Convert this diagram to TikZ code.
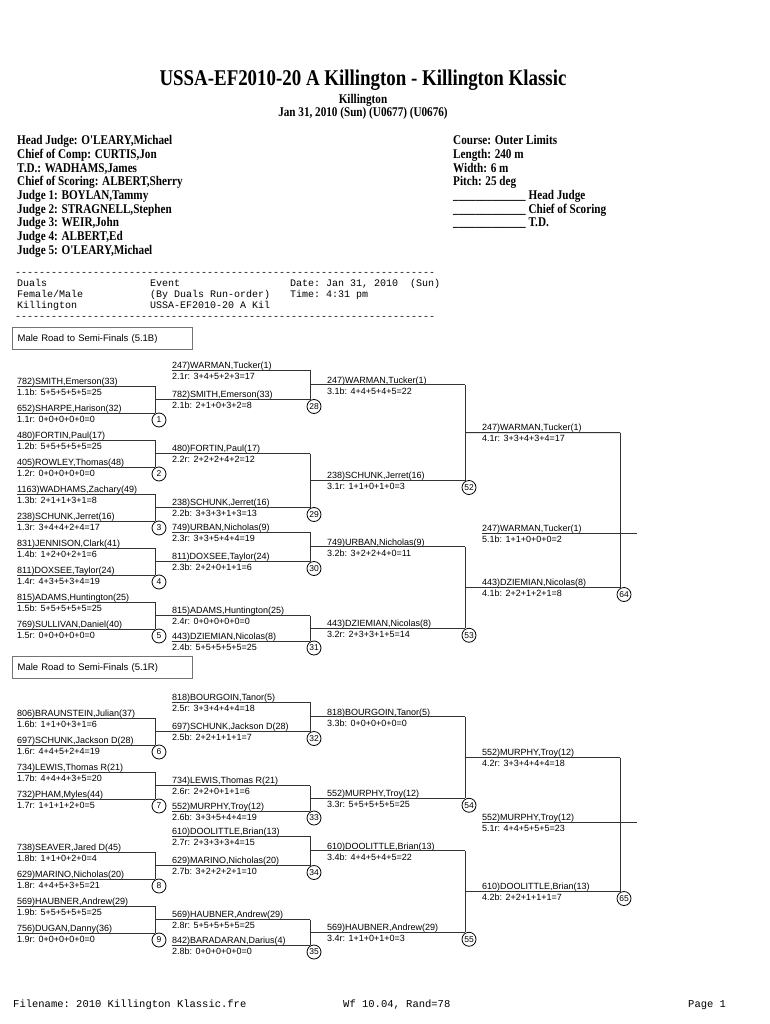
\documentclass[tikz,border=0pt]{standalone}
\usepackage{fontspec}
\usepackage{tikz}
\usetikzlibrary{calc}
\newfontfamily\sansf{Liberation Sans}
\newfontfamily\serf[FakeStretch=0.84]{Liberation Serif}
\setmonofont{Liberation Mono}

% one bout: id, right x, top y, bottom y, bout number
\newcommand{\bout}[5]{%
  \coordinate (#1a) at (#2,#3);
  \coordinate (#1b) at (#2,#4);
  \coordinate (#1w) at (#2,{(#3+#4)/2});
  \draw[bline] (#1a) -- (#1b);
  \node[num] (c#5) at ([shift={(4,7)}]#1b) {#5};
}

\begin{document}
\begin{tikzpicture}[x=1pt, y=-1pt,
  bline/.style={draw=black!80, line width=1pt},
  who/.style={anchor=base west, inner sep=0pt, yshift=1.75pt,
    font=\sansf\fontsize{9}{10}\selectfont},
  pts/.style={anchor=base west, inner sep=0pt, yshift=-9.25pt,
    font=\sansf\fontsize{9}{10}\selectfont},
  num/.style={draw, circle, line width=0.8pt, inner sep=0pt,
    minimum size=14pt, font=\sansf\fontsize{8.5}{9}\selectfont},
  secbox/.style={draw=black!55, line width=1.2pt, anchor=north west,
    minimum height=22pt, text width=170pt, inner xsep=5pt, align=left,
    font=\sansf\fontsize{9.5}{10}\selectfont},
  hdr/.style={anchor=west, inner sep=0pt, text height=9pt, text depth=2.5pt,
    font=\serf\bfseries\fontsize{13.3}{14}\selectfont},
  mono/.style={anchor=west, inner sep=0pt, text height=7pt, text depth=2pt,
    font=\ttfamily\fontsize{10}{11}\selectfont}
]
\useasboundingbox[fill=white] (0,0) rectangle (770,1024);

% heading
\node[font=\serf\bfseries\fontsize{22.5}{24}\selectfont] (ttl) at (363,80)
  {USSA-EF2010-20 A Killington - Killington Klassic};
\node[hdr, anchor=center] (site) at (363,100) {Killington};
\node[hdr, anchor=center] (day) at (363,113) {Jan 31, 2010 (Sun) (U0677) (U0676)};

\node[hdr] (j1) at (17,141) {Head Judge: O'LEARY,Michael};
\node[hdr] (j2) at (17,155) {Chief of Comp: CURTIS,Jon};
\node[hdr] (j3) at (17,169) {T.D.: WADHAMS,James};
\node[hdr] (j4) at (17,182) {Chief of Scoring: ALBERT,Sherry};
\node[hdr] (j5) at (17,196) {Judge 1: BOYLAN,Tammy};
\node[hdr] (j6) at (17,210) {Judge 2: STRAGNELL,Stephen};
\node[hdr] (j7) at (17,223) {Judge 3: WEIR,John};
\node[hdr] (j8) at (17,237) {Judge 4: ALBERT,Ed};
\node[hdr] (j9) at (17,251) {Judge 5: O'LEARY,Michael};

\node[hdr] (k1) at (453,141) {Course: Outer Limits};
\node[hdr] (k2) at (453,155) {Length: 240 m};
\node[hdr] (k3) at (453,169) {Width: 6 m};
\node[hdr] (k4) at (453,182) {Pitch: 25 deg};
\node[hdr] (k5) at (453,196) {\_\_\_\_\_\_\_\_\_\_\_\_\_ Head Judge};
\node[hdr] (k6) at (453,210) {\_\_\_\_\_\_\_\_\_\_\_\_\_ Chief of Scoring};
\node[hdr] (k7) at (453,223) {\_\_\_\_\_\_\_\_\_\_\_\_\_ T.D.};

\node[mono] (r1) at (15,273) {----------------------------------------------------------------------};
\node[mono] (d1) at (17,284) {Duals};
\node[mono] (d2) at (17,295) {Female/Male};
\node[mono] (d3) at (17,306) {Killington};
\node[mono] (e1) at (150,284) {Event};
\node[mono] (e2) at (150,295) {(By Duals Run-order)};
\node[mono] (e3) at (150,306) {USSA-EF2010-20 A Kil};
\node[mono] (t1) at (290,284) {Date: Jan 31, 2010\ \ (Sun)};
\node[mono] (t2) at (290,295) {Time: 4:31 pm};
\node[mono] (r2) at (15,317) {----------------------------------------------------------------------};

% ---------------- 5.1B ----------------
\node[secbox] (sec1) at (12,327) {Male Road to Semi-Finals (5.1B)};

% round 1
\node[who] (n1a) at (17,386) {782)SMITH,Emerson(33)};
\node[pts] (s1a) at (17,386) {1.1b: 5+5+5+5+5=25};
\node[who] (n1b) at (17,413) {652)SHARPE,Harison(32)};
\node[pts] (s1b) at (17,413) {1.1r: 0+0+0+0+0=0};
\bout{m1}{155}{386}{413}{1}
\node[who] (n2a) at (17,440) {480)FORTIN,Paul(17)};
\node[pts] (s2a) at (17,440) {1.2b: 5+5+5+5+5=25};
\node[who] (n2b) at (17,467) {405)ROWLEY,Thomas(48)};
\node[pts] (s2b) at (17,467) {1.2r: 0+0+0+0+0=0};
\bout{m2}{155}{440}{467}{2}
\node[who] (n3a) at (17,494) {1163)WADHAMS,Zachary(49)};
\node[pts] (s3a) at (17,494) {1.3b: 2+1+1+3+1=8};
\node[who] (n3b) at (17,521) {238)SCHUNK,Jerret(16)};
\node[pts] (s3b) at (17,521) {1.3r: 3+4+4+2+4=17};
\bout{m3}{155}{494}{521}{3}
\node[who] (n4a) at (17,548) {831)JENNISON,Clark(41)};
\node[pts] (s4a) at (17,548) {1.4b: 1+2+0+2+1=6};
\node[who] (n4b) at (17,575) {811)DOXSEE,Taylor(24)};
\node[pts] (s4b) at (17,575) {1.4r: 4+3+5+3+4=19};
\bout{m4}{155}{548}{575}{4}
\node[who] (n5a) at (17,602) {815)ADAMS,Huntington(25)};
\node[pts] (s5a) at (17,602) {1.5b: 5+5+5+5+5=25};
\node[who] (n5b) at (17,629) {769)SULLIVAN,Daniel(40)};
\node[pts] (s5b) at (17,629) {1.5r: 0+0+0+0+0=0};
\bout{m5}{155}{602}{629}{5}
\foreach \k in {1,...,5} {
  \draw[bline] (n\k a.west |- m\k a) -- (m\k a);
  \draw[bline] (n\k b.west |- m\k b) -- (m\k b);
}

% round 2
\node[who] (n28a) at (172,370) {247)WARMAN,Tucker(1)};
\node[pts] (s28a) at (172,370) {2.1r: 3+4+5+2+3=17};
\node[who] (n28b) at (172,399.5) {782)SMITH,Emerson(33)};
\node[pts] (s28b) at (172,399.5) {2.1b: 2+1+0+3+2=8};
\bout{m28}{310}{370}{399.5}{28}
\node[who] (n29a) at (172,453.5) {480)FORTIN,Paul(17)};
\node[pts] (s29a) at (172,453.5) {2.2r: 2+2+2+4+2=12};
\node[who] (n29b) at (172,507.5) {238)SCHUNK,Jerret(16)};
\node[pts] (s29b) at (172,507.5) {2.2b: 3+3+3+1+3=13};
\bout{m29}{310}{453.5}{507.5}{29}
\node[who] (n30a) at (172,532) {749)URBAN,Nicholas(9)};
\node[pts] (s30a) at (172,532) {2.3r: 3+3+5+4+4=19};
\node[who] (n30b) at (172,561.5) {811)DOXSEE,Taylor(24)};
\node[pts] (s30b) at (172,561.5) {2.3b: 2+2+0+1+1=6};
\bout{m30}{310}{532}{561.5}{30}
\node[who] (n31a) at (172,615.5) {815)ADAMS,Huntington(25)};
\node[pts] (s31a) at (172,615.5) {2.4r: 0+0+0+0+0=0};
\node[who] (n31b) at (172,641) {443)DZIEMIAN,Nicolas(8)};
\node[pts] (s31b) at (172,641) {2.4b: 5+5+5+5+5=25};
\bout{m31}{310}{615.5}{641}{31}
\draw[bline] (n28a.west |- m28a) -- (m28a);
\draw[bline] (m1w) -- (m28b);
\draw[bline] (m2w) -- (m29a);
\draw[bline] (m3w) -- (m29b);
\draw[bline] (n30a.west |- m30a) -- (m30a);
\draw[bline] (m4w) -- (m30b);
\draw[bline] (m5w) -- (m31a);
\draw[bline] (n31b.west |- m31b) -- (m31b);

% round 3
\node[who] (n52a) at (327,384.75) {247)WARMAN,Tucker(1)};
\node[pts] (s52a) at (327,384.75) {3.1b: 4+4+5+4+5=22};
\node[who] (n52b) at (327,480.5) {238)SCHUNK,Jerret(16)};
\node[pts] (s52b) at (327,480.5) {3.1r: 1+1+0+1+0=3};
\bout{m52}{465}{384.75}{480.5}{52}
\node[who] (n53a) at (327,546.75) {749)URBAN,Nicholas(9)};
\node[pts] (s53a) at (327,546.75) {3.2b: 3+2+2+4+0=11};
\node[who] (n53b) at (327,628.25) {443)DZIEMIAN,Nicolas(8)};
\node[pts] (s53b) at (327,628.25) {3.2r: 2+3+3+1+5=14};
\bout{m53}{465}{546.75}{628.25}{53}
\draw[bline] (m28w) -- (m52a);
\draw[bline] (m29w) -- (m52b);
\draw[bline] (m30w) -- (m53a);
\draw[bline] (m31w) -- (m53b);

% round 4 and final
\node[who] (n64a) at (482,432.6) {247)WARMAN,Tucker(1)};
\node[pts] (s64a) at (482,432.6) {4.1r: 3+3+4+3+4=17};
\node[who] (n64b) at (482,587.5) {443)DZIEMIAN,Nicolas(8)};
\node[pts] (s64b) at (482,587.5) {4.1b: 2+2+1+2+1=8};
\bout{m64}{620}{432.6}{587.5}{64}
\draw[bline] (m52w) -- (m64a);
\draw[bline] (m53w) -- (m64b);
\coordinate (f1) at (637,533);
\node[who] (nf1) at (482,533) {247)WARMAN,Tucker(1)};
\node[pts] (sf1) at (482,533) {5.1b: 1+1+0+0+0=2};
\draw[bline] (nf1.west |- f1) -- (f1);

% ---------------- 5.1R ----------------
\node[secbox] (sec2) at (12,656) {Male Road to Semi-Finals (5.1R)};

% round 1
\node[who] (n6a) at (17,718) {806)BRAUNSTEIN,Julian(37)};
\node[pts] (s6a) at (17,718) {1.6b: 1+1+0+3+1=6};
\node[who] (n6b) at (17,745) {697)SCHUNK,Jackson D(28)};
\node[pts] (s6b) at (17,745) {1.6r: 4+4+5+2+4=19};
\bout{m6}{155}{718}{745}{6}
\node[who] (n7a) at (17,772) {734)LEWIS,Thomas R(21)};
\node[pts] (s7a) at (17,772) {1.7b: 4+4+4+3+5=20};
\node[who] (n7b) at (17,799) {732)PHAM,Myles(44)};
\node[pts] (s7b) at (17,799) {1.7r: 1+1+1+2+0=5};
\bout{m7}{155}{772}{799}{7}
\node[who] (n8a) at (17,852) {738)SEAVER,Jared D(45)};
\node[pts] (s8a) at (17,852) {1.8b: 1+1+0+2+0=4};
\node[who] (n8b) at (17,879) {629)MARINO,Nicholas(20)};
\node[pts] (s8b) at (17,879) {1.8r: 4+4+5+3+5=21};
\bout{m8}{155}{852}{879}{8}
\node[who] (n9a) at (17,906) {569)HAUBNER,Andrew(29)};
\node[pts] (s9a) at (17,906) {1.9b: 5+5+5+5+5=25};
\node[who] (n9b) at (17,933) {756)DUGAN,Danny(36)};
\node[pts] (s9b) at (17,933) {1.9r: 0+0+0+0+0=0};
\bout{m9}{155}{906}{933}{9}
\foreach \k in {6,...,9} {
  \draw[bline] (n\k a.west |- m\k a) -- (m\k a);
  \draw[bline] (n\k b.west |- m\k b) -- (m\k b);
}

% round 2
\node[who] (n32a) at (172,702) {818)BOURGOIN,Tanor(5)};
\node[pts] (s32a) at (172,702) {2.5r: 3+3+4+4+4=18};
\node[who] (n32b) at (172,731.5) {697)SCHUNK,Jackson D(28)};
\node[pts] (s32b) at (172,731.5) {2.5b: 2+2+1+1+1=7};
\bout{m32}{310}{702}{731.5}{32}
\node[who] (n33a) at (172,785.5) {734)LEWIS,Thomas R(21)};
\node[pts] (s33a) at (172,785.5) {2.6r: 2+2+0+1+1=6};
\node[who] (n33b) at (172,811) {552)MURPHY,Troy(12)};
\node[pts] (s33b) at (172,811) {2.6b: 3+3+5+4+4=19};
\bout{m33}{310}{785.5}{811}{33}
\node[who] (n34a) at (172,836) {610)DOOLITTLE,Brian(13)};
\node[pts] (s34a) at (172,836) {2.7r: 2+3+3+3+4=15};
\node[who] (n34b) at (172,865.5) {629)MARINO,Nicholas(20)};
\node[pts] (s34b) at (172,865.5) {2.7b: 3+2+2+2+1=10};
\bout{m34}{310}{836}{865.5}{34}
\node[who] (n35a) at (172,919.5) {569)HAUBNER,Andrew(29)};
\node[pts] (s35a) at (172,919.5) {2.8r: 5+5+5+5+5=25};
\node[who] (n35b) at (172,945) {842)BARADARAN,Darius(4)};
\node[pts] (s35b) at (172,945) {2.8b: 0+0+0+0+0=0};
\bout{m35}{310}{919.5}{945}{35}
\draw[bline] (n32a.west |- m32a) -- (m32a);
\draw[bline] (m6w) -- (m32b);
\draw[bline] (m7w) -- (m33a);
\draw[bline] (n33b.west |- m33b) -- (m33b);
\draw[bline] (n34a.west |- m34a) -- (m34a);
\draw[bline] (m8w) -- (m34b);
\draw[bline] (m9w) -- (m35a);
\draw[bline] (n35b.west |- m35b) -- (m35b);

% round 3
\node[who] (n54a) at (327,716.75) {818)BOURGOIN,Tanor(5)};
\node[pts] (s54a) at (327,716.75) {3.3b: 0+0+0+0+0=0};
\node[who] (n54b) at (327,798.25) {552)MURPHY,Troy(12)};
\node[pts] (s54b) at (327,798.25) {3.3r: 5+5+5+5+5=25};
\bout{m54}{465}{716.75}{798.25}{54}
\node[who] (n55a) at (327,850.75) {610)DOOLITTLE,Brian(13)};
\node[pts] (s55a) at (327,850.75) {3.4b: 4+4+5+4+5=22};
\node[who] (n55b) at (327,932.25) {569)HAUBNER,Andrew(29)};
\node[pts] (s55b) at (327,932.25) {3.4r: 1+1+0+1+0=3};
\bout{m55}{465}{850.75}{932.25}{55}
\draw[bline] (m32w) -- (m54a);
\draw[bline] (m33w) -- (m54b);
\draw[bline] (m34w) -- (m55a);
\draw[bline] (m35w) -- (m55b);

% round 4 and final
\node[who] (n65a) at (482,757.5) {552)MURPHY,Troy(12)};
\node[pts] (s65a) at (482,757.5) {4.2r: 3+3+4+4+4=18};
\node[who] (n65b) at (482,891.5) {610)DOOLITTLE,Brian(13)};
\node[pts] (s65b) at (482,891.5) {4.2b: 2+2+1+1+1=7};
\bout{m65}{620}{757.5}{891.5}{65}
\draw[bline] (m54w) -- (m65a);
\draw[bline] (m55w) -- (m65b);
\coordinate (f2) at (637,822);
\node[who] (nf2) at (482,822) {552)MURPHY,Troy(12)};
\node[pts] (sf2) at (482,822) {5.1r: 4+4+5+5+5=23};
\draw[bline] (nf2.west |- f2) -- (f2);

% footer
\node[mono, font=\ttfamily\fontsize{10.5}{12}\selectfont] (ft1) at (13,1005) {Filename: 2010 Killington Klassic.fre};
\node[mono, font=\ttfamily\fontsize{10.5}{12}\selectfont] (ft2) at (343,1005) {Wf 10.04, Rand=78};
\node[mono, font=\ttfamily\fontsize{10.5}{12}\selectfont] (ft3) at (688,1005) {Page 1};
\end{tikzpicture}
\end{document}
